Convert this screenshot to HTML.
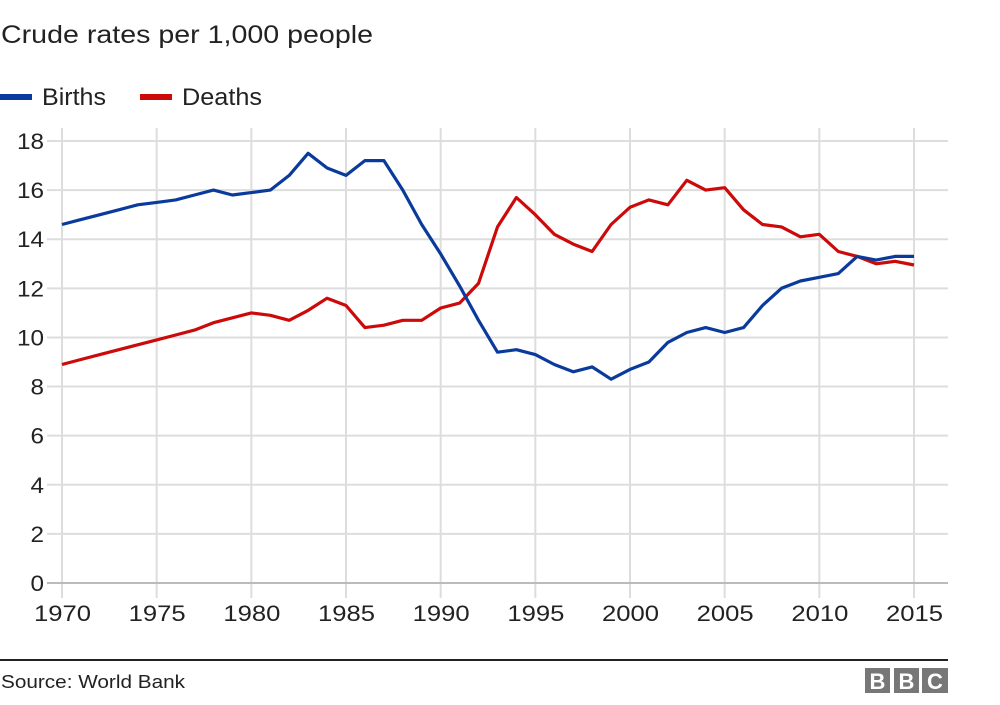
<!DOCTYPE html>
<html><head><meta charset="utf-8"><style>
body{margin:0;background:#fff;}
svg text{font-family:"Liberation Sans",Arial,sans-serif;fill:#222;}
</style></head><body>
<svg id="s" width="1000" height="700" xmlns="http://www.w3.org/2000/svg">
<text x="1" y="43" font-size="25" textLength="372" lengthAdjust="spacingAndGlyphs">Crude rates per 1,000 people</text>
<rect x="0" y="94" width="32" height="6" fill="#0a3b9c"/>
<text x="42" y="105" font-size="24" textLength="64" lengthAdjust="spacingAndGlyphs">Births</text>
<rect x="140" y="94" width="32" height="6" fill="#cc0a0a"/>
<text x="182" y="105" font-size="24" textLength="80" lengthAdjust="spacingAndGlyphs">Deaths</text>
<g id="grid"></g>
<line x1="0" y1="660" x2="948" y2="660" stroke="#222" stroke-width="2"/>
<text x="1" y="688" font-size="18" textLength="184" lengthAdjust="spacingAndGlyphs">Source: World Bank</text>
<rect x="865" y="668" width="25" height="25" fill="#777"/>
<rect x="894" y="668" width="25" height="25" fill="#777"/>
<rect x="922" y="668" width="26" height="25" fill="#777"/>
<text x="877.5" y="689" font-size="22" font-weight="bold" text-anchor="middle" style="fill:#fff">B</text>
<text x="906.5" y="689" font-size="22" font-weight="bold" text-anchor="middle" style="fill:#fff">B</text>
<text x="935" y="689" font-size="22" font-weight="bold" text-anchor="middle" style="fill:#fff">C</text>
</svg>
<script>
var ns="http://www.w3.org/2000/svg",g=document.getElementById("grid");
function X(y){return 62+(y-1970)*852/45;}
function Y(v){return 583-v*442/18;}
function el(t,a,txt){var e=document.createElementNS(ns,t);for(var k in a)e.setAttribute(k,a[k]);if(txt!=null)e.textContent=txt;g.appendChild(e);return e;}
for(var v=2;v<=18;v+=2){el("line",{x1:47,x2:948,y1:Y(v),y2:Y(v),stroke:"#ddd","stroke-width":2});}
for(var v=0;v<=18;v+=2){var s=String(v);el("text",{x:44-s.length*13.5,y:Y(v)+8,"font-size":22,textLength:s.length*13.5,lengthAdjust:"spacingAndGlyphs"},s);}
for(var y=1970;y<=2015;y+=5){el("line",{x1:X(y),x2:X(y),y1:128,y2:598,stroke:"#ddd","stroke-width":2});
el("text",{x:X(y)-28,y:621,"font-size":22,textLength:57,lengthAdjust:"spacingAndGlyphs"},y);}
el("line",{x1:47,x2:948,y1:583,y2:583,stroke:"#bbb","stroke-width":2});
var b=[14.6,14.8,15.0,15.2,15.4,15.5,15.6,15.8,16.0,15.8,15.9,16.0,16.6,17.5,16.9,16.6,17.2,17.2,16.0,14.6,13.4,12.1,10.7,9.4,9.5,9.3,8.9,8.6,8.8,8.3,8.7,9.0,9.8,10.2,10.4,10.2,10.4,11.3,12.0,12.3,12.45,12.6,13.3,13.15,13.3,13.3];
var d=[8.9,9.1,9.3,9.5,9.7,9.9,10.1,10.3,10.6,10.8,11.0,10.9,10.7,11.1,11.6,11.3,10.4,10.5,10.7,10.7,11.2,11.4,12.2,14.5,15.7,15.0,14.2,13.8,13.5,14.6,15.3,15.6,15.4,16.4,16.0,16.1,15.2,14.6,14.5,14.1,14.2,13.5,13.3,13.0,13.1,12.95];
function p(a){return a.map(function(v,i){return (i?"L":"M")+X(1970+i).toFixed(1)+" "+Y(v).toFixed(1);}).join("");}
el("path",{d:p(d),fill:"none",stroke:"#cc0a0a","stroke-width":3.2,"stroke-linejoin":"round"});
el("path",{d:p(b),fill:"none",stroke:"#0a3b9c","stroke-width":3.2,"stroke-linejoin":"round"});
</script>
</body></html>
